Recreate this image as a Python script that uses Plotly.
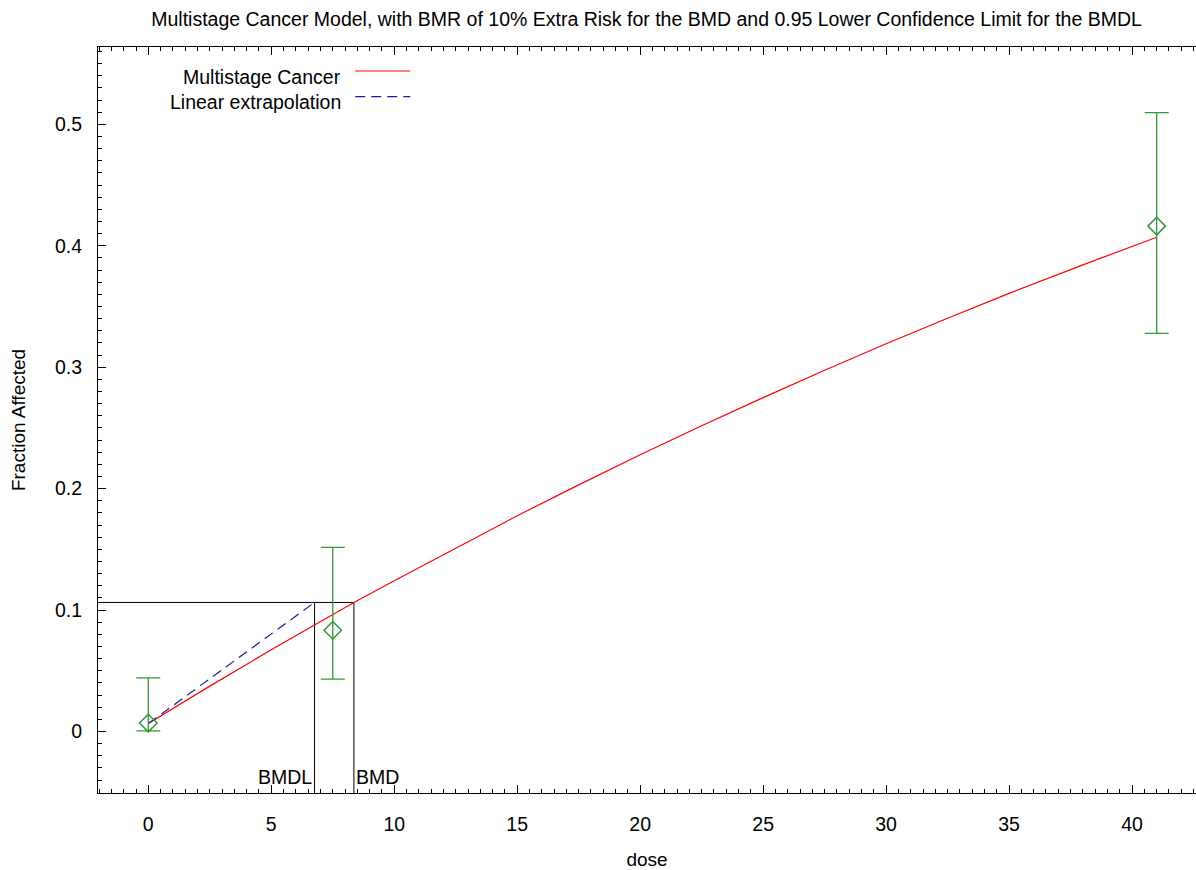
import numpy as np
import plotly.graph_objects as go

# ---- data ----
dose = [0, 7.5, 41]
frac_affected = [0.007, 0.0834, 0.4162]
ci_lower = [0.0005, 0.0431, 0.3278]
ci_upper = [0.0442, 0.1516, 0.5096]

curve_dose = [0, 2.5, 5, 8.36, 10, 12.5, 15, 17.5, 20, 22.5, 25, 27.5, 30, 32.5, 35, 38, 41]
curve_frac = [0.0066, 0.0374, 0.0673, 0.1063, 0.1242, 0.1512, 0.1777, 0.2031, 0.2279,
              0.2518, 0.2750, 0.2975, 0.3193, 0.3403, 0.3608, 0.3843, 0.4070]

linear_dose = [0, 6.76]
linear_frac = [0.0066, 0.1063]

bmd = 8.36
bmdl = 6.76
bmr_level = 0.1063

x_range = [-2.045, 42.60]
y_range = [-0.0506, 0.5637]

x_ticks = [0, 5, 10, 15, 20, 25, 30, 35, 40]
y_ticks = [0, 0.1, 0.2, 0.3, 0.4, 0.5]
y_tick_text = ["0", "0.1", "0.2", "0.3", "0.4", "0.5"]

FONT = "Liberation Sans, Arial, Helvetica, sans-serif"
GREEN = "#339933"
RED = "#ff0000"
BLUE = "#1a1a9c"
FS = 19.5

fig = go.Figure()

# BMD / BMDL guide lines
fig.add_trace(go.Scatter(x=[x_range[0], bmd], y=[bmr_level, bmr_level], mode="lines",
                         line=dict(color="black", width=1), showlegend=False, hoverinfo="skip"))
fig.add_trace(go.Scatter(x=[bmdl, bmdl], y=[y_range[0], bmr_level], mode="lines",
                         line=dict(color="black", width=1), showlegend=False, hoverinfo="skip"))
fig.add_trace(go.Scatter(x=[bmd, bmd], y=[y_range[0], bmr_level], mode="lines",
                         line=dict(color="black", width=1), showlegend=False, hoverinfo="skip"))

# model curve
fig.add_trace(go.Scatter(x=curve_dose, y=curve_frac, mode="lines",
                         line=dict(color=RED, width=1.2), name="Multistage Cancer", showlegend=False))
# linear extrapolation
fig.add_trace(go.Scatter(x=linear_dose, y=linear_frac, mode="lines",
                         line=dict(color=BLUE, width=1.2, dash="10px,6px"),
                         name="Linear extrapolation", showlegend=False))

# observed data with CI
frac = np.array(frac_affected)
fig.add_trace(go.Scatter(
    x=dose, y=frac_affected, mode="markers",
    marker=dict(symbol="diamond-open", size=13.5, color=GREEN, line=dict(width=1.5, color=GREEN)),
    error_y=dict(type="data", symmetric=False,
                 array=list(np.array(ci_upper) - frac),
                 arrayminus=list(frac - np.array(ci_lower)),
                 color=GREEN, thickness=1.3, width=12),
    showlegend=False))

# legend drawn like the reference (text left, sample right)
annotations = [
    dict(text="Multistage Cancer", xref="paper", yref="paper", x=0.2227, y=0.9598,
         xanchor="right", yanchor="middle", showarrow=False, font=dict(size=FS, family=FONT, color="black")),
    dict(text="Linear extrapolation", xref="paper", yref="paper", x=0.2227, y=0.9262,
         xanchor="right", yanchor="middle", showarrow=False, font=dict(size=FS, family=FONT, color="black")),
    dict(text="BMDL", xref="x", yref="paper", x=bmdl, y=0.0,
         xanchor="right", yanchor="bottom", yshift=3, xshift=-1, showarrow=False,
         font=dict(size=FS, family=FONT, color="black")),
    dict(text="BMD", xref="x", yref="paper", x=bmd, y=0.0,
         xanchor="left", yanchor="bottom", yshift=3, xshift=0, showarrow=False,
         font=dict(size=FS, family=FONT, color="black")),
]
shapes = [
    dict(type="line", xref="paper", yref="paper", x0=0.2343, x1=0.2844, y0=0.9678, y1=0.9678,
         line=dict(color=RED, width=1.2)),
    dict(type="line", xref="paper", yref="paper", x0=0.2343, x1=0.2844, y0=0.9334, y1=0.9334,
         line=dict(color=BLUE, width=1.2, dash="10px,6px")),
]

fig.update_layout(
    width=1196, height=870,
    paper_bgcolor="white", plot_bgcolor="white",
    margin=dict(l=98, r=0, t=47, b=77, autoexpand=False),
    font=dict(family=FONT, size=FS, color="black"),
    title=dict(text="Multistage Cancer Model, with BMR of 10% Extra Risk for the BMD and 0.95 Lower Confidence Limit for the BMDL",
               x=0.5406, xanchor="center", y=0.978, yanchor="middle",
               font=dict(size=19.5, family=FONT, color="black")),
    annotations=annotations, shapes=shapes,
    showlegend=False,
)
fig.update_xaxes(
    range=x_range, tickvals=x_ticks, ticks="inside", ticklen=8, tickwidth=1, tickcolor="black",
    minor=dict(dtick=0.5, tick0=0, ticks="inside", ticklen=4, tickcolor="black", tickwidth=1),
    showline=True, linecolor="black", linewidth=1, mirror="ticks",
    showgrid=False, zeroline=False, ticklabelstandoff=14,
    tickfont=dict(size=FS, family=FONT),
    title=dict(text="dose", font=dict(size=19, family=FONT), standoff=21),
)
fig.update_yaxes(
    range=y_range, tickvals=y_ticks, ticktext=y_tick_text, ticks="inside", ticklen=8, tickwidth=1,
    tickcolor="black",
    minor=dict(dtick=0.01, tick0=0, ticks="inside", ticklen=4, tickcolor="black", tickwidth=1),
    showline=True, linecolor="black", linewidth=1, mirror=False,
    showgrid=False, zeroline=False, ticklabelstandoff=11,
    tickfont=dict(size=FS, family=FONT),
    title=dict(text="Fraction Affected", font=dict(size=19, family=FONT), standoff=24),
)

fig.write_html("out.html", config={"displayModeBar": False},
               post_script="document.body.style.margin='0';document.body.style.padding='0';")
